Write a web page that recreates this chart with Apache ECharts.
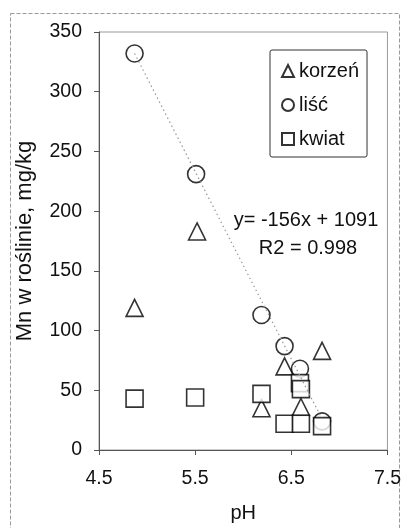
<!DOCTYPE html>
<html><head><meta charset="utf-8">
<script src="https://cdn.jsdelivr.net/npm/echarts@6/dist/echarts.min.js"></script>
<style>html,body{margin:0;padding:0;background:#fff}#c{width:404px;height:528px}</style>
</head><body><div id="c"></div>
<script>
// Data
const korzen = [[4.87,119],[5.52,183],[6.19,35],[6.43,70],[6.6,36],[6.82,83]];
const lisc   = [[4.87,332],[5.51,231],[6.19,113],[6.43,87],[6.59,68],[6.82,24]];
const kwiat  = [[4.87,43],[5.5,44],[6.19,47],[6.43,22],[6.6,22],[6.59,56],[6.6,51],[6.82,20]];
const trend  = [[4.87,332],[6.82,26]];
const xTicks = [4.5,5.5,6.5,7.5];
const seriesNames = ['korzeń','liść','kwiat'];
const eqText = 'y= -156x + 1091';
const r2Text = 'R2 = 0.998';

const FF = '"Liberation Sans", Arial, sans-serif';
const markerStyle = {color:'#fff', borderColor:'#000', borderWidth:1.6};

const chart = echarts.init(document.getElementById('c'), null, {renderer:'canvas'});
chart.setOption({
  animation:false,
  backgroundColor:'#fff',
  grid:{left:99, right:16, top:32, bottom:77, show:true, borderColor:'#999', borderWidth:1, backgroundColor:'transparent'},
  xAxis:{
    type:'value', min:4.5, max:7.5,
    name:'pH', nameLocation:'middle', nameGap:53,
    nameTextStyle:{fontSize:20, fontFamily:FF, color:'#111'},
    axisLine:{lineStyle:{color:'#555', width:1}},
    axisTick:{show:true, length:5, lineStyle:{color:'#555'}, customValues:xTicks},
    axisLabel:{fontSize:19.5, fontFamily:FF, color:'#111', margin:19, customValues:xTicks},
    splitLine:{show:false}
  },
  yAxis:{
    type:'value', min:0, max:350, interval:50,
    name:'Mn w roślinie, mg/kg', nameLocation:'middle', nameGap:63,
    nameTextStyle:{fontSize:22, fontFamily:FF, color:'#111'},
    axisLine:{show:true, lineStyle:{color:'#555', width:1}},
    axisTick:{show:true, length:5, lineStyle:{color:'#555'}},
    axisLabel:{fontSize:19.5, fontFamily:FF, color:'#111', margin:17},
    splitLine:{show:false}
  },
  legend:{
    orient:'vertical', left:270, top:50,
    data:seriesNames,
    itemWidth:12, itemHeight:12, itemGap:14,
    padding:[11,8,8,11],
    borderColor:'#333', borderWidth:1, borderRadius:2,
    textStyle:{fontSize:20, fontFamily:FF, color:'#111'}
  },
  series:[
    {name:seriesNames[0], type:'scatter', symbol:'triangle', symbolSize:17, data:korzen, itemStyle:markerStyle},
    {name:seriesNames[1], type:'scatter', symbol:'circle', symbolSize:17, data:lisc, itemStyle:markerStyle},
    {name:seriesNames[2], type:'scatter', symbol:'rect', symbolSize:17, data:kwiat, itemStyle:markerStyle},
    {name:'trend', type:'line', data:trend, symbol:'none', z:5,
     lineStyle:{color:'#999', width:1.2, type:[1.5,3]}}
  ],
  graphic:[
    {type:'rect', silent:true, z:-10, shape:{x:10.5, y:13.5, width:389, height:530},
     style:{fill:'none', stroke:'#999', lineWidth:1, lineDash:[4,2]}},
    {type:'text', x:306, y:220, style:{text:eqText, fontSize:20, fontFamily:FF, fill:'#111', align:'center', verticalAlign:'middle', textAlign:'center', textVerticalAlign:'middle'}},
    {type:'text', x:308, y:248, style:{text:r2Text, fontSize:20, fontFamily:FF, fill:'#111', align:'center', verticalAlign:'middle', textAlign:'center', textVerticalAlign:'middle'}}
  ]
});
</script>
</body></html>
